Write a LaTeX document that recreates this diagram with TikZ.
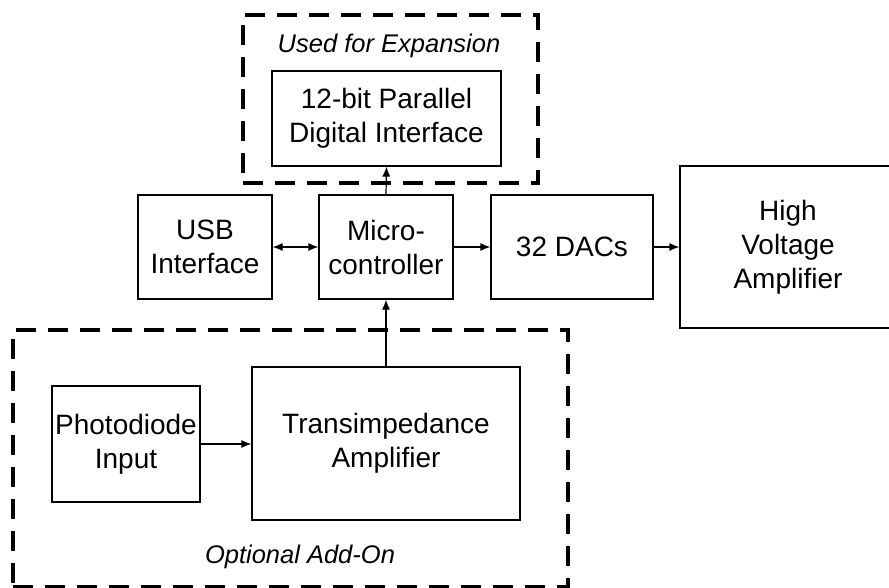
\documentclass[tikz,border=0pt]{standalone}
\usepackage{fontspec}
\setmainfont{Liberation Sans}
\usetikzlibrary{arrows.meta}
\tikzset{
  blk/.style={draw, line width=1.2pt, inner sep=0pt, align=center,
    font=\fontsize{28}{34}\selectfont},
  grp/.style={draw, line width=4.5pt, dash pattern=on 20pt off 12pt, inner sep=0pt},
  lbl/.style={inner sep=0pt, font=\fontsize{25.5}{30}\selectfont\itshape},
  conn/.style={line width=1.2pt, -{Latex[length=10pt,width=8pt]}},
  bconn/.style={line width=1.2pt, {Latex[length=10pt,width=8pt]}-{Latex[length=10pt,width=8pt]}}
}
\begin{document}
\begin{tikzpicture}[x=1pt,y=-1pt]
\clip (0,0) rectangle (889,588);
\fill[white] (0,0) rectangle (889,588);
% group boxes
\node[grp, minimum width=295pt, minimum height=168pt] (expg) at (390.5,99) {};
\node[grp, minimum width=555pt, minimum height=257pt] (addg) at (290.5,458.5) {};
\node[lbl] (expl) at (389,46) {Used for Expansion};
\node[lbl] (addl) at (300,557) {Optional Add-On};
% blocks
\node[blk, minimum width=229pt, minimum height=95pt] (par) at (386.5,118.5) {12-bit Parallel\\Digital Interface};
\node[blk, minimum width=134pt, minimum height=104pt] (usb) at (205,247) {USB\\Interface};
\node[blk, minimum width=134pt, minimum height=104pt] (mcu) at (386,247) {Micro-\\controller};
\node[blk, minimum width=162pt, minimum height=104pt] (dac) at (572,247) {32 DACs};
\node[blk, minimum width=216pt, minimum height=162pt] (hva) at (788,247) {High\\Voltage\\Amplifier};
\node[blk, minimum width=148pt, minimum height=116pt] (pd) at (126,444) {Photodiode\\Input};
\node[blk, minimum width=268pt, minimum height=153pt] (tia) at (386,443.5) {Transimpedance\\Amplifier};
% connectors
\draw[bconn] (usb.east) -- (mcu.west);
\draw[conn] (mcu.east) -- (dac.west);
\draw[conn] (dac.east) -- (hva.west |- dac.east);
\draw[conn] (mcu.north) -- (par.south);
\draw[conn] (tia.north) -- (mcu.south);
\draw[conn] (pd.east) -- (tia.west |- pd.east);
\end{tikzpicture}
\end{document}
